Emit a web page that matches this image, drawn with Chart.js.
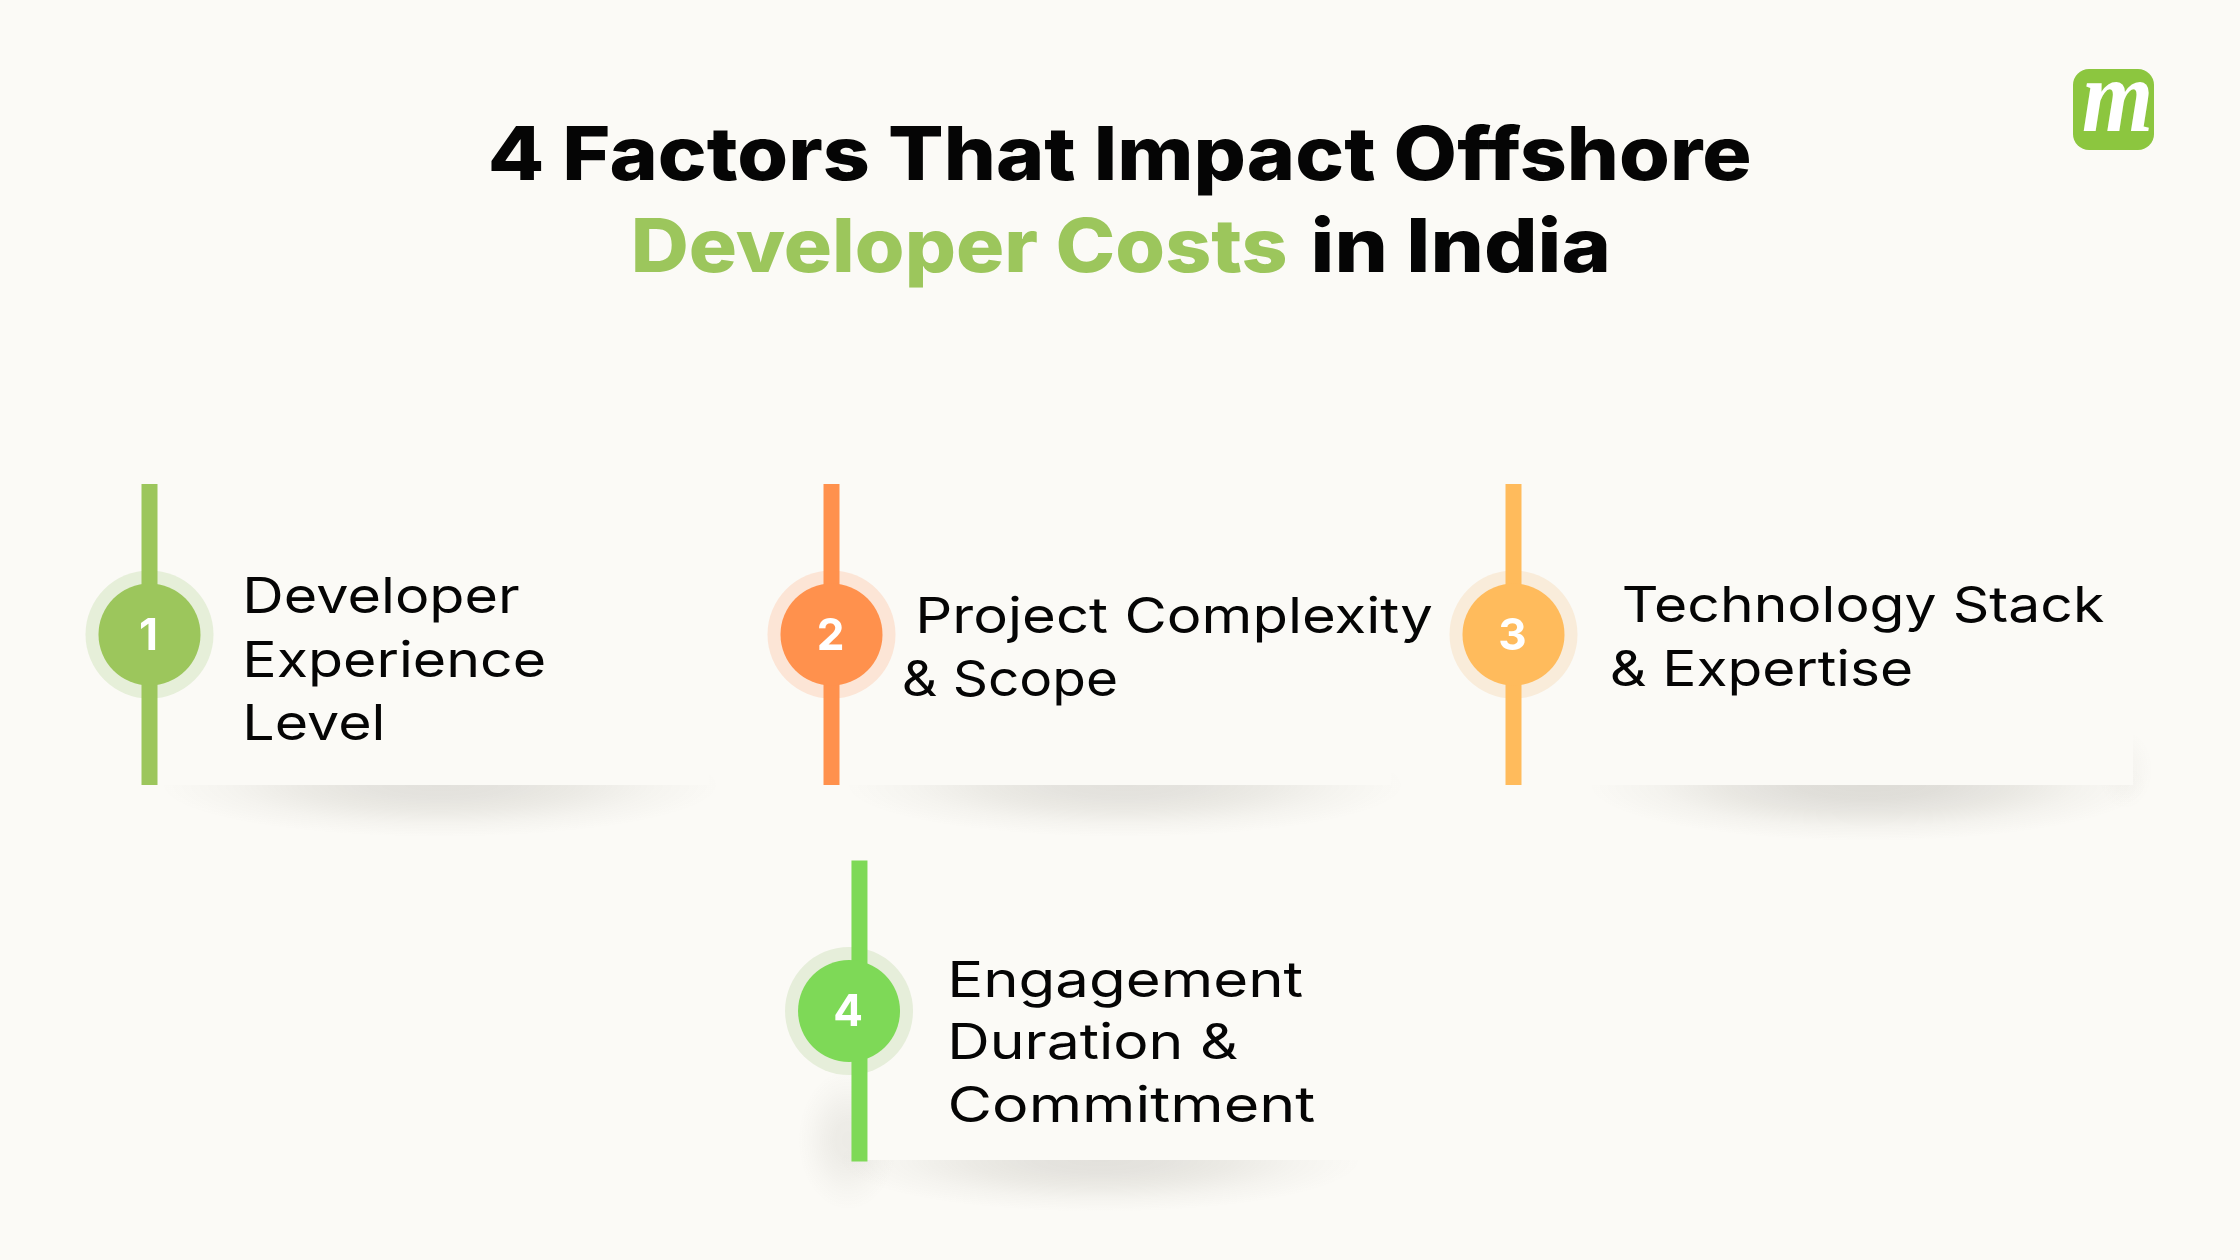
<!DOCTYPE html>
<html><head><meta charset="utf-8">
<style>html,body{margin:0;padding:0;background:#FBFAF6}canvas{display:block}</style>
<script src="https://cdn.jsdelivr.net/npm/chart.js@4"></script>
</head><body>
<div style="width:2240px;height:1260px"><canvas id="c" width="2240" height="1260"></canvas></div>
<script>
// ---- data ----
const stepNumbers = ['1','2','3','4'];
const stepColumn = [0, 1, 2, 1.0257];
const stemColumn = [0, 1, 2, 1.041];
const stepRow = [0, 0, 0, 1];
const factorLines = [
  ['Developer','Experience','Level'],
  ['Project Complexity','& Scope'],
  ['Technology Stack','& Expertise'],
  ['Engagement','Duration &','Commitment']
];
const titleLine1 = '4 Factors That Impact Offshore';
const titleLine2Accent = 'Developer Costs';
const titleLine2Rest = 'in India';
const logoLetter = 'm';
// ---- styles / layout ----
const BG='#FBFAF6', INK='#050505', ACCENT='#9CC65C';
const solid=['#9CC65C','#FF914D','#FFBB5C','#7ED957'];
const halo=['#E6EFD9','#FCE5D6','#F9ECDA','#E6EEDA'];
const FONT='Inter, "Noto Sans", sans-serif';
const labelBoxes=[
  [[247,613,272],[247,677,297],[247,740,135]],
  [[920,633,512],[904,696,212]],
  [[1624,622,480],[1612,686,299]],
  [[952,997,351],[952,1059,286],[950,1122,365]]
];
const cards=[[149,484,560,785],[831,484,560,785],[1513,484,620,785],[859,860,500,1160]];
const shadows=[[440,785,280,52,1],[1125,785,280,52,1],[1868,785,280,56,1.2],[1100,1160,262,52,1]];

function fitText(ctx,text,x,base,w,font,color){
  ctx.save();ctx.font=font;ctx.fillStyle=color;ctx.textAlign='left';ctx.textBaseline='alphabetic';
  const m=ctx.measureText(text);const ink=m.actualBoundingBoxLeft+m.actualBoundingBoxRight;
  const sx=w/ink;ctx.translate(x+m.actualBoundingBoxLeft*sx,base);ctx.scale(sx,1);ctx.fillText(text,0,0);ctx.restore();
}
function softEllipse(ctx,cx,cy,rx,ry,k=1){
  ctx.save();ctx.translate(cx,cy);ctx.scale(rx,ry);
  const g=ctx.createRadialGradient(0,0,0,0,0,1);
  [[0,.125],[.25,.115],[.5,.08],[.75,.03],[1,0]].forEach(s=>g.addColorStop(s[0],`rgba(60,55,40,${s[1]*k})`));
  ctx.fillStyle=g;ctx.beginPath();ctx.arc(0,0,1,0,Math.PI*2);ctx.fill();ctx.restore();
}
const decor={id:'decor',
  beforeDatasetsDraw(ch){const c=ch.ctx;
    shadows.forEach(s=>softEllipse(c,s[0],s[1],s[2],s[3],s[4]));
    softEllipse(c,848,1140,50,70,.6);
    softEllipse(c,2125,770,28,40,.25);
    c.fillStyle=BG;cards.forEach(r=>c.fillRect(r[0],r[1],r[2],r[3]-r[1]));
  },
  afterDatasetsDraw(ch){const c=ch.ctx,x=ch.scales.x,y=ch.scales.y;
    fitText(c,titleLine1,491,180,1258,'800 74px '+FONT,INK);
    fitText(c,titleLine2Accent,635,272,651,'800 74px '+FONT,ACCENT);
    fitText(c,titleLine2Rest,1314,272,293,'800 74px '+FONT,INK);
    stepNumbers.forEach((n,i)=>{c.save();c.font='700 44px '+FONT;c.fillStyle='#fff';c.textAlign='center';c.textBaseline='alphabetic';
      c.fillText(n,x.getPixelForValue(stepColumn[i])-1,y.getPixelForValue(stepRow[i])+15);c.restore();});
    factorLines.forEach((ls,i)=>ls.forEach((t,j)=>{const b=labelBoxes[i][j];fitText(c,t,b[0],b[1],b[2],'400 49.5px '+FONT,INK);}));
    c.save();c.fillStyle='#8CC63F';c.beginPath();c.roundRect(2073,69,81,81,16);c.fill();c.restore();
    fitText(c,logoLetter,2083,131,66,'italic 700 104px "Liberation Serif", serif','#fff');
  }
};
const stems=stepNumbers.map((n,i)=>({type:'line',label:'stem '+n,order:2,
  data:[{x:stemColumn[i],y:stepRow[i]-0.4},{x:stemColumn[i],y:stepRow[i]+0.4}],
  borderColor:solid[i],borderWidth:16,pointRadius:0,borderCapStyle:'butt',clip:false}));
new Chart(document.getElementById('c'),{
  type:'scatter',
  data:{datasets:[
    {label:'halo',order:3,data:stepColumn.map((v,i)=>({x:v,y:stepRow[i]})),pointRadius:64,pointBackgroundColor:halo,pointBorderWidth:0,clip:false},
    ...stems,
    {label:'node',order:1,data:stepColumn.map((v,i)=>({x:v,y:stepRow[i]})),pointRadius:51,pointBackgroundColor:solid,pointBorderWidth:0,clip:false}
  ]},
  options:{responsive:false,devicePixelRatio:1,animation:false,layout:{padding:0,autoPadding:false},
    plugins:{legend:{display:false},tooltip:{enabled:false},title:{display:false}},
    events:[],
    scales:{
      x:{type:'linear',display:false,min:-149.5/682,max:(2240-149.5)/682},
      y:{type:'linear',display:false,reverse:true,min:-634.5/376.5,max:(1260-634.5)/376.5}
    }},
  plugins:[decor]
});
</script>
</body></html>
